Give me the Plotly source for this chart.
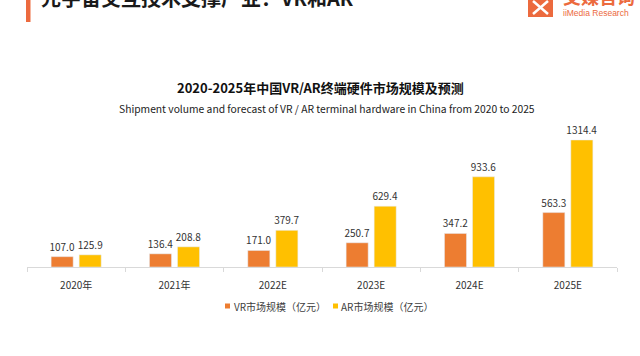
import plotly.graph_objects as go

categories = ["2020年", "2021年", "2022E", "2023E", "2024E", "2025E"]
vr_values = [107.0, 136.4, 171.0, 250.7, 347.2, 563.3]
ar_values = [125.9, 208.8, 379.7, 629.4, 933.6, 1314.4]
vr_name = "VR市场规模（亿元）"
ar_name = "AR市场规模（亿元）"
header = "元宇宙交互技术支撑产业：VR和AR"
title_cn = "2020-2025年中国VR/AR终端硬件市场规模及预测"
title_en = "Shipment volume and forecast of VR / AR terminal hardware in China from 2020 to 2025"

VR_COLOR = "#ED7D31"
AR_COLOR = "#FFC000"
BRAND = "#EC6A3E"
FONT = "Noto Sans CJK SC"

W, H = 640, 356
L, R, T, B = 27, 23, 130, 89
PW, PH = W - L - R, H - T - B


def px(x):
    return (x - L) / PW


def py(y):
    return (H - B - y) / PH


fig = go.Figure()
for vals, name, color in ((vr_values, vr_name, VR_COLOR), (ar_values, ar_name, AR_COLOR)):
    fig.add_trace(go.Bar(
        x=categories, y=vals, name=name, marker_color=color,
        text=[f"{v:.1f}" for v in vals], textposition="outside", constraintext="none",
        textfont=dict(size=10, color="#333333", family=FONT), cliponaxis=False,
    ))

annotations = [
    dict(text=f"<b>{title_cn}</b>", x=px(320), y=py(87), font=dict(size=13, color="#111111")),
    dict(text=title_en, x=px(327), y=py(108), font=dict(size=10.3, color="#222222")),
    dict(text=f"<b>{header}</b>", x=px(39), y=py(14), xanchor="left", yanchor="bottom",
         font=dict(size=20, color="#1a1a1a")),
    dict(text="<b>艾媒咨询</b>", x=px(561), y=py(11), xanchor="left", yanchor="bottom",
         font=dict(size=18, color=BRAND)),
    dict(text="iiMedia Research", x=px(561), y=py(12.5), xanchor="left", yanchor="middle",
         font=dict(size=8.5, color=BRAND, family="Liberation Sans")),
    dict(text=vr_name, x=px(232), y=py(306), xanchor="left", yanchor="middle",
         font=dict(size=10, color="#404040")),
    dict(text=ar_name, x=px(339), y=py(306), xanchor="left", yanchor="middle",
         font=dict(size=10, color="#404040")),
]
for a in annotations:
    a.setdefault("xanchor", "center")
    a.setdefault("yanchor", "middle")
    a.update(xref="paper", yref="paper", showarrow=False)
    if "family" not in a["font"]:
        a["font"]["family"] = FONT

shapes = [
    dict(type="rect", x0=px(26), x1=px(30.5), y0=py(22), y1=py(-2), fillcolor=BRAND, line_width=0),
    dict(type="rect", x0=px(528), x1=px(553), y0=py(17), y1=py(-2), fillcolor=BRAND, line_width=0),
    dict(type="line", x0=px(533), x1=px(548), y0=py(14), y1=py(1), line=dict(color="white", width=2.5)),
    dict(type="line", x0=px(533), x1=px(548), y0=py(1), y1=py(14), line=dict(color="white", width=2.5)),
    dict(type="rect", x0=px(225), x1=px(230), y0=py(308.5), y1=py(303.5), fillcolor=VR_COLOR, line_width=0),
    dict(type="rect", x0=px(333), x1=px(338), y0=py(308.5), y1=py(303.5), fillcolor=AR_COLOR, line_width=0),
]
for s in shapes:
    s.update(xref="paper", yref="paper")

fig.update_layout(
    width=W, height=H,
    margin=dict(l=L, r=R, t=T, b=B, pad=0),
    paper_bgcolor="white", plot_bgcolor="white",
    barmode="group", bargap=0.43, bargroupgap=0.214,
    showlegend=False,
    font=dict(family=FONT, size=10, color="#404040"),
    annotations=annotations, shapes=shapes,
    xaxis=dict(
        showline=True, linecolor="#d9d9d9", linewidth=1,
        ticks="outside", tickson="boundaries", tickcolor="#d9d9d9", ticklen=4,
        tickfont=dict(size=10, color="#333333", family=FONT),
        ticklabelstandoff=9, showgrid=False, fixedrange=True,
    ),
    yaxis=dict(range=[0, 1418], visible=False, showgrid=False, fixedrange=True),
)

fig.write_html(
    "out.html",
    config={"displayModeBar": False},
    post_script="document.body.style.margin='0';document.body.style.overflow='hidden';",
)
